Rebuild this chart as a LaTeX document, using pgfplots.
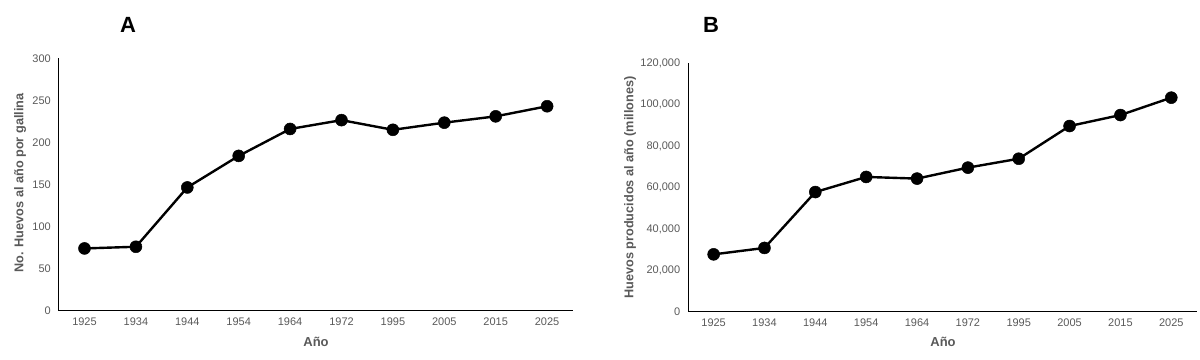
\documentclass[border=0pt]{standalone}
\usepackage{pgfplots}
\pgfplotsset{compat=1.18}
\usepackage{fontspec}
\setmainfont{Liberation Sans}
\definecolor{tickgray}{HTML}{595959}
\pgfplotstableread{
x year y
0 1925 74
1 1934 76
2 1944 146.5
3 1954 184
4 1964 216
5 1972 226.5
6 1995 215
7 2005 223.5
8 2015 231
9 2025 243
}\tabA
\pgfplotstableread{
x year y
0 1925 27700
1 1934 30800
2 1944 57800
3 1954 65100
4 1964 64300
5 1972 69600
6 1995 73900
7 2005 89700
8 2015 95000
9 2025 103400
}\tabB
\pgfplotsset{
  panel/.style={
    scale only axis,
    anchor=south west,
    axis x line=bottom, axis y line=left,
    axis line style={-, black, line width=0.9bp},
    major tick length=0pt,
    xmin=-0.5, xmax=9.5, ymin=0,
    xtick={0,...,9},
    xticklabels={1925,1934,1944,1954,1964,1972,1995,2005,2015,2025},
    tick label style={font=\fontsize{11bp}{12bp}\selectfont, text=tickgray},
    xticklabel style={yshift=-4bp},
    yticklabel style={xshift=-4.5bp},
    /pgf/number format/assume math mode=true,
    scaled y ticks=false,
    clip=false,
  },
  dataline/.style={black, line width=2.4bp, mark=*, mark size=6bp, mark options={fill=black, draw=black, line width=0.5bp}},
}
\begin{document}
\begin{tikzpicture}
\path (0,0) rectangle (1200bp,360bp);
\begin{axis}[panel, at={(58.8bp,49.3bp)}, width=514bp, height=252.4bp,
  ymax=300, ytick={0,50,...,300},
  yticklabels={0,50,100,150,200,250,300}]
\addplot[dataline] table[x=x,y=y] {\tabA};
\end{axis}
\begin{axis}[panel, at={(688.2bp,48.3bp)}, width=508.5bp, height=248.4bp,
  ymax=120000, ytick={0,20000,40000,60000,80000,100000,120000},
  yticklabels={0,{20,000},{40,000},{60,000},{80,000},{100,000},{120,000}}]
\addplot[dataline] table[x=x,y=y] {\tabB};
\end{axis}
\node[font=\fontsize{22bp}{24bp}\selectfont\bfseries] at (128bp,335bp) {A};
\node[font=\fontsize{22bp}{24bp}\selectfont\bfseries] at (711bp,335bp) {B};
\node[font=\fontsize{13bp}{14bp}\selectfont\bfseries, text=tickgray] at (316bp,18bp) {Año};
\node[font=\fontsize{13bp}{14bp}\selectfont\bfseries, text=tickgray] at (943bp,18bp) {Año};
\node[font=\fontsize{12.7bp}{14bp}\selectfont\bfseries, text=tickgray, rotate=90] at (20bp,177bp) {No. Huevos al año por gallina};
\node[font=\fontsize{12.7bp}{14bp}\selectfont\bfseries, text=tickgray, rotate=90] at (630bp,172.5bp) {Huevos producidos al año (millones)};
\end{tikzpicture}
\end{document}
